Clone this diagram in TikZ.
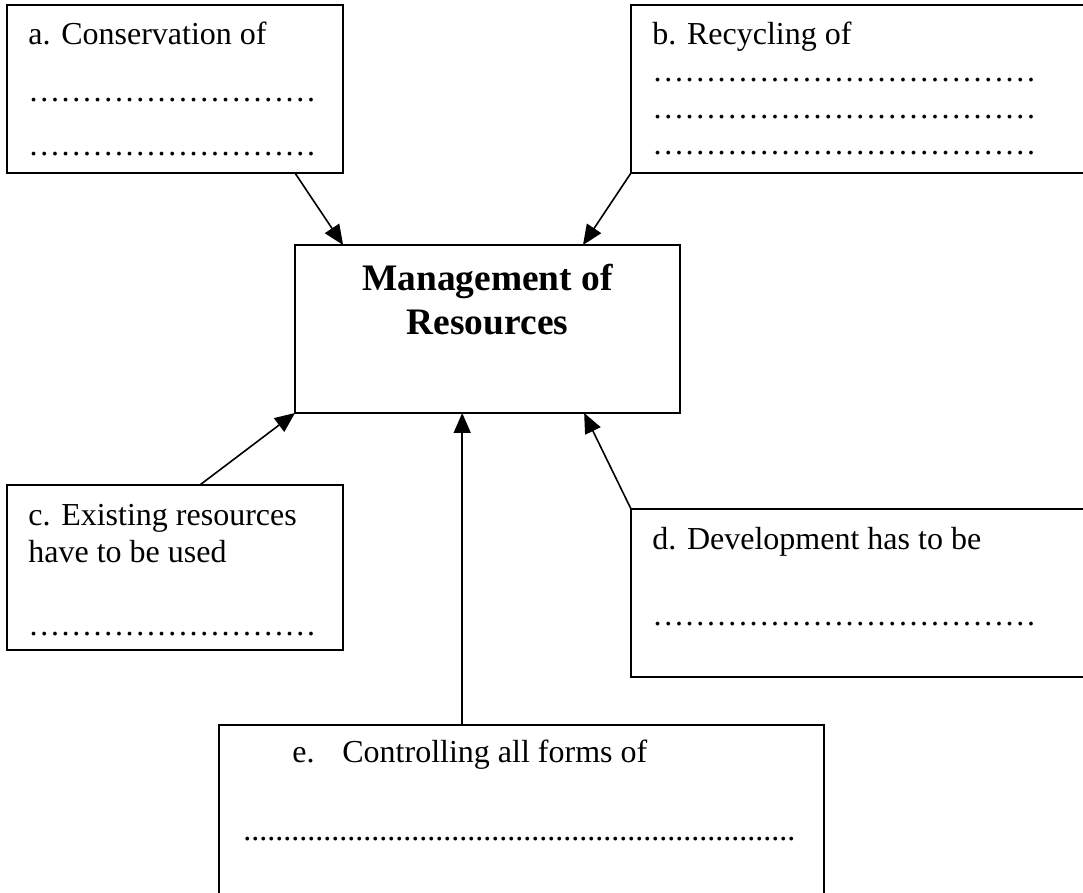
\documentclass[tikz,border=0pt]{standalone}
\usepackage{fontspec}
\setmainfont{Liberation Serif}
\usetikzlibrary{arrows.meta,calc}
\newcommand\threeell{\char"2026\char"2026\char"2026}
\newcommand\nineell{\threeell\threeell\threeell}
\newcommand\twelveell{\threeell\threeell\threeell\threeell}
\begin{document}
\begin{tikzpicture}[x=0.5pt,y=-0.5pt,
  box/.style={draw,line width=0.9pt,inner sep=0pt,outer sep=0pt,anchor=north west},
  txt/.style={inner sep=0pt,anchor=base west,font=\fontsize{16pt}{19pt}\selectfont},
  ttl/.style={inner sep=0pt,anchor=base,font=\fontsize{18.7pt}{22pt}\selectfont\bfseries},
  arr/.style={line width=0.8pt,-{Triangle[length=10pt,width=8.5pt]}}]
\clip (0,0) rectangle (1083,893);
% boxes
\node[box,minimum width=168pt,minimum height=84pt] (a) at (7,5) {};
\node[box,minimum width=240pt,minimum height=84pt] (b) at (631,5) {};
\node[box,minimum width=192.5pt,minimum height=84pt] (m) at (295,245) {};
\node[box,minimum width=168pt,minimum height=82.5pt] (c) at (7,485) {};
\node[box,minimum width=240pt,minimum height=84pt] (d) at (631,509) {};
\node[box,minimum width=302.5pt,minimum height=100pt] (e) at (219,725) {};
% texts
\node[txt] (ta1) at (28,45) {a. Conservation of};
\node[txt] (ta2) at (28,102) {\nineell};
\node[txt] (ta3) at (28,156) {\nineell};
\node[txt] (tb1) at (652,45) {b. Recycling of};
\node[txt] (tb2) at (652,82) {\twelveell};
\node[txt] (tb3) at (652,119) {\twelveell};
\node[txt] (tb4) at (652,155) {\twelveell};
\node[ttl] (tm1) at (487.5,291) {Management of};
\node[ttl] (tm2) at (487.5,335) {Resources};
\node[txt] (tc1) at (28,525) {c. Existing resources};
\node[txt] (tc2) at (28,562) {have to be used};
\node[txt] (tc3) at (28,635) {\nineell};
\node[txt] (td1) at (652,550) {d. Development has to be};
\node[txt] (td2) at (652,625) {\twelveell};
\node[txt] (te1) at (292,762) {\makebox[25pt][l]{e.}Controlling all forms of};
\node[txt] (te2) at (243,840) {.....................................................................};
% connectors
\draw[arr] ($(a.south west)!0.857!(a.south east)$) -- ($(m.north west)!0.125!(m.north east)$);
\draw[arr] (b.south west) -- ($(m.north west)!0.748!(m.north east)$);
\draw[arr] ($(c.north west)!0.574!(c.north east)$) -- (m.south west);
\draw[arr] (d.north west) -- ($(m.south west)!0.751!(m.south east)$);
\coordinate (et) at ($(e.north west)!0.402!(e.north east)$);
\draw[arr] (et) -- (et |- m.south);
\end{tikzpicture}
\end{document}
